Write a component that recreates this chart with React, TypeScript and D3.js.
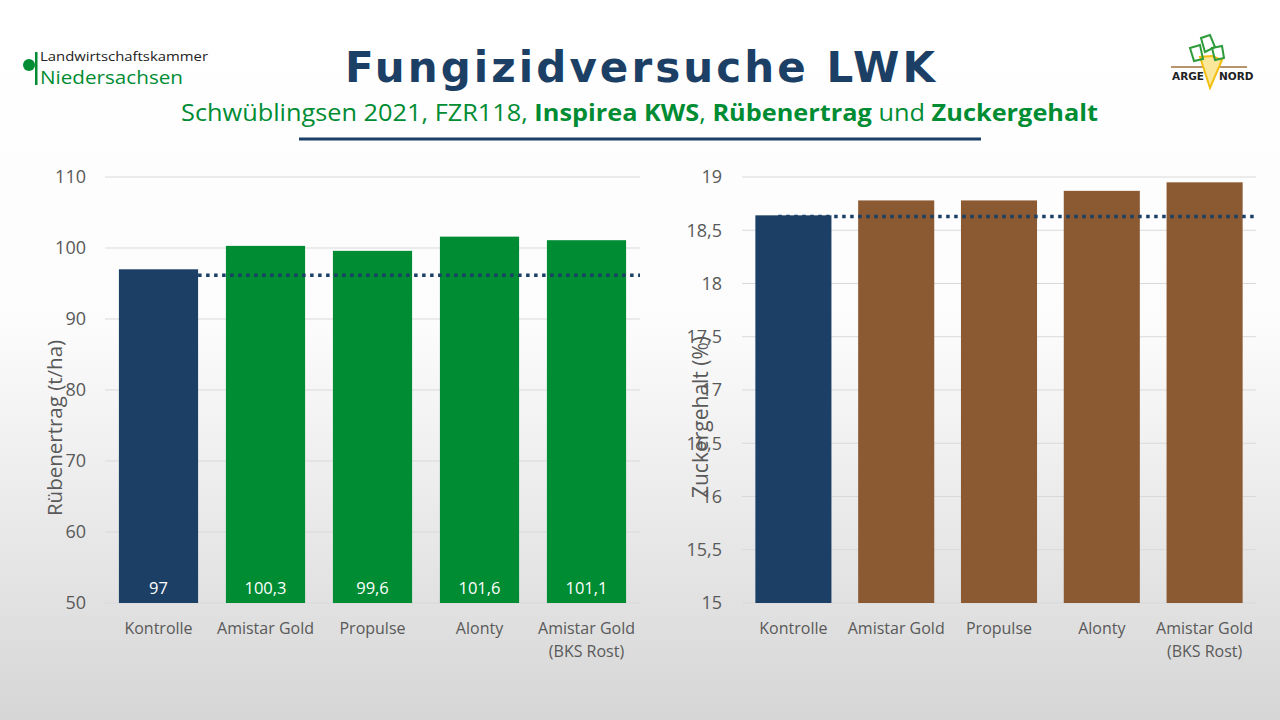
import React from 'react';
import * as d3 from 'd3';

// treatments (x categories)
const treatments = ['Kontrolle', 'Amistar Gold', 'Propulse', 'Alonty', 'Amistar Gold\n(BKS Rost)'];

// Rübenertrag t/ha
const yieldValues = [97, 100.3, 99.6, 101.6, 101.1];
const yieldLabels = ['97', '100,3', '99,6', '101,6', '101,1'];
const yieldRef = 96.15;
const yieldTicks = [50, 60, 70, 80, 90, 100, 110];

// Zuckergehalt %
const sugarValues = [18.64, 18.78, 18.78, 18.87, 18.95];
const sugarRef = 18.63;
const sugarTicks = [15, 15.5, 16, 16.5, 17, 17.5, 18, 18.5, 19];

const W = 1280;
const H = 720;
const BLUE = '#1c3f66';
const GREEN = '#008c33';
const BROWN = '#8b5a32';
const GREY = '#595959';
const FONT = '"Open Sans", "Noto Sans", sans-serif';

const fmt = (v: number) => String(v).replace('.', ',');

interface PanelProps {
  values: number[];
  ticks: number[];
  domain: [number, number];
  refValue: number;
  refStart: number; // fraction of first band where the dotted line starts
  x0: number;
  x1: number;
  tickX: number;
  titleX: number;
  titleY: number;
  title: string;
  titleSize: number;
  colors: string[];
  labels?: string[];
}

const Panel: React.FC<PanelProps> = ({
  values, ticks, domain, refValue, refStart, x0, x1, tickX, titleX, titleY, title, titleSize, colors, labels
}) => {
  const y = d3.scaleLinear().domain(domain).range([603, 177]);
  const x = d3.scaleBand<string>().domain(treatments).range([x0, x1]).paddingInner(0.26).paddingOuter(0.13);
  const bw = x.bandwidth();
  const refX0 = (x(treatments[0]) as number) + bw * refStart;
  const refX1 = x1;

  return (
    <g>
      {ticks.map(t => (
        <g key={t}>
          <line x1={x0} x2={x1} y1={y(t)} y2={y(t)} stroke="#d9d9d9" strokeWidth={1} />
          <text x={tickX} y={y(t)} dy="0.35em" textAnchor="end" fontSize={18} fill={GREY} fontFamily={FONT}>
            {fmt(t)}
          </text>
        </g>
      ))}
      {values.map((v, i) => (
        <rect key={i} x={x(treatments[i])} y={y(v)} width={bw} height={y(domain[0]) - y(v)} fill={colors[i]} />
      ))}
      {labels && values.map((v, i) => (
        <text key={'l' + i} x={(x(treatments[i]) as number) + bw / 2} y={594} textAnchor="middle"
          fontSize={16.5} fill="#ffffff" fontFamily={FONT}>{labels[i]}</text>
      ))}
      <line x1={refX0} x2={refX1} y1={y(refValue)} y2={y(refValue)} stroke={BLUE} strokeWidth={3.5}
        strokeDasharray="3.5 4.5" />
      {treatments.map(c => (
        <text key={c} x={(x(c) as number) + bw / 2} y={634} textAnchor="middle" fontSize={16} fill={GREY}
          fontFamily={FONT}>
          {c.split('\n').map((line, j) => (
            <tspan key={j} x={(x(c) as number) + bw / 2} dy={j === 0 ? 0 : 23}>{line}</tspan>
          ))}
        </text>
      ))}
      <text transform={`translate(${titleX},${titleY}) rotate(-90)`} textAnchor="middle" dy="0.35em"
        fontSize={titleSize} fill={GREY} fontFamily={FONT}>{title}</text>
    </g>
  );
};

const App: React.FC = () => {
  return (
    <svg width={W} height={H} style={{ position: 'fixed', left: 0, top: 0, display: 'block' }}>
      <defs>
        <linearGradient id="bg" x1="0" y1="0" x2="0" y2="1">
          <stop offset="0" stopColor="#ffffff" />
          <stop offset="0.45" stopColor="#fcfcfc" />
          <stop offset="1" stopColor="#d6d6d6" />
        </linearGradient>
      </defs>
      <rect width={W} height={H} fill="url(#bg)" />

      {/* left logo */}
      <circle cx={29} cy={65} r={6} fill={GREEN} />
      <rect x={35} y={52} width={2.5} height={33} fill={GREEN} />
      <text x={40} y={61} fontSize={13.5} fill="#222" fontFamily={FONT} textLength={168} lengthAdjust="spacingAndGlyphs">
        Landwirtschaftskammer
      </text>
      <text x={40} y={84} fontSize={18.5} fill={GREEN} fontFamily={FONT} textLength={143} lengthAdjust="spacingAndGlyphs">
        Niedersachsen
      </text>

      {/* right logo */}
      <g>
        <line x1={1171} y1={67} x2={1247} y2={67} stroke="#a0703c" strokeWidth={1.5} />
        <path d="M1200,57 L1210,88 L1222,60 L1212,56 Z" fill="#fbe79a" stroke="#f2bf10" strokeWidth={2} />
        <path d="M1190,48 L1200,45 L1203,59 L1194,61 Z" fill="none" stroke="#2e9b3a" strokeWidth={2} />
        <path d="M1201,38 L1210,35 L1215,47 L1205,52 Z" fill="none" stroke="#2e9b3a" strokeWidth={2} />
        <path d="M1212,48 L1222,46 L1224,58 L1215,60 Z" fill="none" stroke="#2e9b3a" strokeWidth={2} />
        <text x={1172} y={80} fontSize={10.5} fontWeight="bold" fill="#222" fontFamily="DejaVu Sans">ARGE</text>
        <text x={1219} y={80} fontSize={10.5} fontWeight="bold" fill="#222" fontFamily="DejaVu Sans">NORD</text>
      </g>

      {/* title */}
      <text x={345} y={82} fontSize={42} fontWeight="bold" fill={BLUE} fontFamily="DejaVu Sans"
        textLength={590} lengthAdjust="spacing">Fungizidversuche LWK</text>
      <text x={181} y={121} fontSize={23} fill={GREEN} fontFamily={FONT} textLength={917}
        lengthAdjust="spacingAndGlyphs">
        <tspan>Schwüblingsen 2021, FZR118, </tspan>
        <tspan fontWeight="bold">Inspirea KWS</tspan>
        <tspan>, </tspan>
        <tspan fontWeight="bold">Rübenertrag</tspan>
        <tspan> und </tspan>
        <tspan fontWeight="bold">Zuckergehalt</tspan>
      </text>
      <line x1={299} x2={981} y1={139} y2={139} stroke={BLUE} strokeWidth={3} />

      <Panel values={yieldValues} ticks={yieldTicks} domain={[50, 110]} refValue={yieldRef} refStart={1}
        x0={105} x1={640} tickX={86} titleX={55} titleY={428} title="Rübenertrag (t/ha)" titleSize={20.5}
        colors={[BLUE, GREEN, GREEN, GREEN, GREEN]} labels={yieldLabels} />
      <Panel values={sugarValues} ticks={sugarTicks} domain={[15, 19]} refValue={sugarRef} refStart={0.3}
        x0={742} x1={1256} tickX={722} titleX={701} titleY={417} title="Zuckergehalt (%)" titleSize={21}
        colors={[BLUE, BROWN, BROWN, BROWN, BROWN]} />
    </svg>
  );
};

export default App;
